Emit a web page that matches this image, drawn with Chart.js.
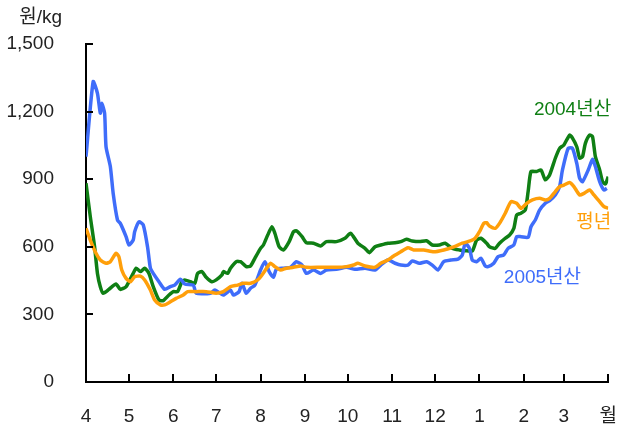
<!DOCTYPE html>
<html>
<head>
<meta charset="utf-8">
<script src="https://cdn.jsdelivr.net/npm/chart.js@4.4.1/dist/chart.umd.min.js"></script>
<style>
  html, body { margin: 0; padding: 0; background: #fff; }
</style>
</head>
<body>
<canvas id="chart" width="632" height="426"></canvas>
<script>
// day offsets from 1 April; month starts drive the x ticks
const monthStarts = [0, 30, 61, 91, 122, 153, 183, 214, 244, 275, 306, 334, 365];
const monthLabels = ["4", "5", "6", "7", "8", "9", "10", "11", "12", "1", "2", "3", "월"];
const yTicks = [0, 300, 600, 900, 1200, 1500];

// 2005년산 (blue)
const days2005 = [0, 5, 8, 10, 11, 13, 14, 17, 19, 22, 24, 28, 30, 33, 34, 37, 40, 43, 45, 47, 51, 55, 59, 62, 66, 69, 75, 77, 87, 90, 96, 101, 103, 107, 109, 112, 115, 118, 122, 125, 128, 131, 133, 138, 143, 147, 151, 154, 159, 164, 168, 175, 182, 188, 195, 202, 206, 211, 216, 220, 225, 228, 233, 238, 242, 246, 250, 255, 260, 263, 265, 268, 270, 273, 276, 279, 281, 285, 288, 292, 295, 299, 301, 304, 309, 311, 314, 317, 321, 324, 328, 331, 333, 337, 340, 343, 345, 347, 351, 354, 356, 359, 362, 364];
const price2005 = [1000, 1333, 1281, 1193, 1237, 1193, 1044, 956, 837, 719, 704, 645, 608, 630, 667, 711, 697, 600, 505, 482, 445, 411, 423, 430, 456, 435, 430, 394, 394, 408, 386, 408, 386, 401, 438, 394, 416, 430, 497, 534, 490, 465, 500, 505, 509, 534, 519, 482, 497, 482, 497, 500, 509, 500, 505, 497, 519, 541, 527, 519, 519, 537, 527, 534, 519, 497, 534, 541, 545, 564, 616, 593, 541, 534, 549, 515, 512, 527, 556, 564, 593, 608, 645, 645, 642, 689, 719, 763, 793, 805, 830, 867, 941, 1037, 1037, 970, 904, 889, 941, 988, 956, 889, 852, 860];

// 2004년산 (green)
const days2004 = [0, 3, 6, 8, 10, 12, 16, 21, 24, 28, 30, 33, 35, 38, 41, 44, 47, 51, 54, 58, 61, 64, 67, 69, 73, 76, 78, 81, 84, 88, 91, 95, 96, 99, 101, 105, 108, 112, 115, 118, 122, 124, 127, 130, 132, 135, 138, 142, 145, 147, 151, 154, 159, 164, 168, 175, 181, 185, 190, 195, 198, 202, 206, 211, 216, 220, 224, 228, 233, 238, 242, 247, 251, 256, 261, 265, 270, 273, 276, 280, 282, 286, 289, 293, 296, 299, 301, 304, 307, 309, 311, 315, 318, 321, 324, 328, 331, 334, 338, 340, 343, 345, 347, 349, 352, 354, 356, 359, 361, 363, 365];
const price2004 = [882, 734, 600, 482, 423, 394, 411, 435, 411, 423, 445, 482, 505, 490, 505, 482, 423, 364, 361, 386, 401, 401, 445, 453, 445, 438, 482, 490, 465, 445, 453, 475, 490, 482, 505, 534, 534, 512, 515, 549, 593, 608, 652, 689, 660, 600, 586, 623, 667, 671, 645, 618, 616, 604, 623, 623, 638, 660, 616, 593, 574, 600, 608, 616, 618, 623, 633, 626, 623, 627, 608, 608, 616, 593, 586, 583, 582, 630, 638, 616, 600, 593, 616, 638, 652, 682, 741, 749, 763, 845, 934, 934, 941, 897, 919, 993, 1037, 1052, 1096, 1082, 1044, 993, 1000, 1059, 1096, 1089, 1000, 941, 889, 879, 911];

// 평년 (orange)
const daysAvg = [0, 3, 7, 10, 14, 17, 21, 23, 25, 28, 31, 34, 38, 41, 45, 48, 52, 55, 59, 63, 68, 71, 77, 84, 91, 96, 101, 106, 110, 115, 120, 123, 127, 129, 132, 136, 140, 145, 150, 154, 164, 175, 182, 187, 190, 195, 202, 206, 211, 215, 220, 225, 229, 236, 243, 250, 257, 263, 269, 272, 275, 278, 280, 282, 286, 289, 293, 297, 301, 304, 308, 312, 317, 321, 324, 328, 331, 334, 338, 341, 345, 348, 352, 355, 359, 362, 365];
const priceAvg = [682, 630, 571, 541, 527, 534, 571, 556, 497, 460, 445, 467, 470, 453, 408, 364, 342, 342, 356, 371, 386, 401, 401, 401, 394, 401, 423, 430, 438, 438, 453, 475, 512, 527, 512, 497, 505, 509, 515, 509, 509, 509, 512, 519, 527, 515, 509, 527, 541, 559, 578, 596, 586, 586, 578, 586, 600, 616, 627, 638, 667, 704, 707, 692, 682, 704, 749, 800, 793, 771, 793, 808, 815, 808, 815, 845, 867, 874, 885, 867, 830, 837, 852, 830, 800, 778, 771];

const GREEN = "#0f7f14";
const ORANGE = "#ff9f0a";
const BLUE = "#3f6dfa";
const FONT = "'Liberation Sans', 'Noto Sans CJK KR', sans-serif";

const toPoints = (xs, ys) => xs.map((x, i) => ({ x, y: ys[i] }));

// series names placed next to the lines, in data units
const seriesLabels = [
  { text: "2004년산", x: 367, y: 1207, color: GREEN },
  { text: "평년", x: 367, y: 706, color: ORANGE },
  { text: "2005년산", x: 346, y: 462, color: BLUE },
];

const axisDecor = {
  id: "axisDecor",
  afterDraw(chart) {
    const { ctx, chartArea: a, scales } = chart;
    ctx.save();
    ctx.strokeStyle = "#000";
    ctx.lineWidth = 2;
    ctx.beginPath();
    monthStarts.forEach((d) => {
      const px = Math.round(scales.x.getPixelForValue(d));
      ctx.moveTo(px, a.bottom);
      ctx.lineTo(px, a.bottom - 8);
    });
    yTicks.forEach((v) => {
      const py = Math.round(scales.y.getPixelForValue(v));
      ctx.moveTo(a.left, py);
      ctx.lineTo(a.left + 7, py);
    });
    ctx.stroke();

    ctx.font = "19px " + FONT;
    ctx.textBaseline = "middle";
    ctx.textAlign = "right";
    ctx.fillStyle = "#222";
    ctx.fillText("원/kg", a.left - 24, 18);

    seriesLabels.forEach((l) => {
      ctx.fillStyle = l.color;
      ctx.fillText(l.text, scales.x.getPixelForValue(l.x), scales.y.getPixelForValue(l.y));
    });
    ctx.restore();
  },
};

const line = (data, color) => ({
  data,
  borderColor: color,
  borderWidth: 3.5,
  pointRadius: 0,
  tension: 0.2,
  fill: false,
});

new Chart(document.getElementById("chart"), {
  type: "line",
  data: {
    datasets: [
      line(toPoints(daysAvg, priceAvg), ORANGE),
      line(toPoints(days2005, price2005), BLUE),
      line(toPoints(days2004, price2004), GREEN),
    ],
  },
  options: {
    responsive: false,
    animation: false,
    layout: { padding: { top: 44, right: 20, left: 0, bottom: 0 } },
    plugins: { legend: { display: false }, tooltip: { enabled: false } },
    scales: {
      x: {
        type: "linear",
        min: 0,
        max: 365,
        afterBuildTicks: (s) => { s.ticks = monthStarts.map((v) => ({ value: v })); },
        afterFit: (s) => { s.height = 44; },
        grid: { display: false },
        border: { display: true, color: "#000", width: 2 },
        ticks: {
          padding: 15,
          color: "#222",
          font: { size: 19, family: FONT },
          maxRotation: 0,
          autoSkip: false,
          callback: (v) => monthLabels[monthStarts.indexOf(v)],
        },
      },
      y: {
        min: 0,
        max: 1500,
        afterBuildTicks: (s) => { s.ticks = yTicks.map((v) => ({ value: v })); },
        afterFit: (s) => { s.width = 86; },
        grid: { display: false },
        border: { display: true, color: "#000", width: 2 },
        ticks: {
          padding: 24,
          color: "#222",
          font: { size: 19, family: FONT },
          callback: (v) => v.toLocaleString("en-US"),
        },
      },
    },
  },
  plugins: [axisDecor],
});
</script>
</body>
</html>
